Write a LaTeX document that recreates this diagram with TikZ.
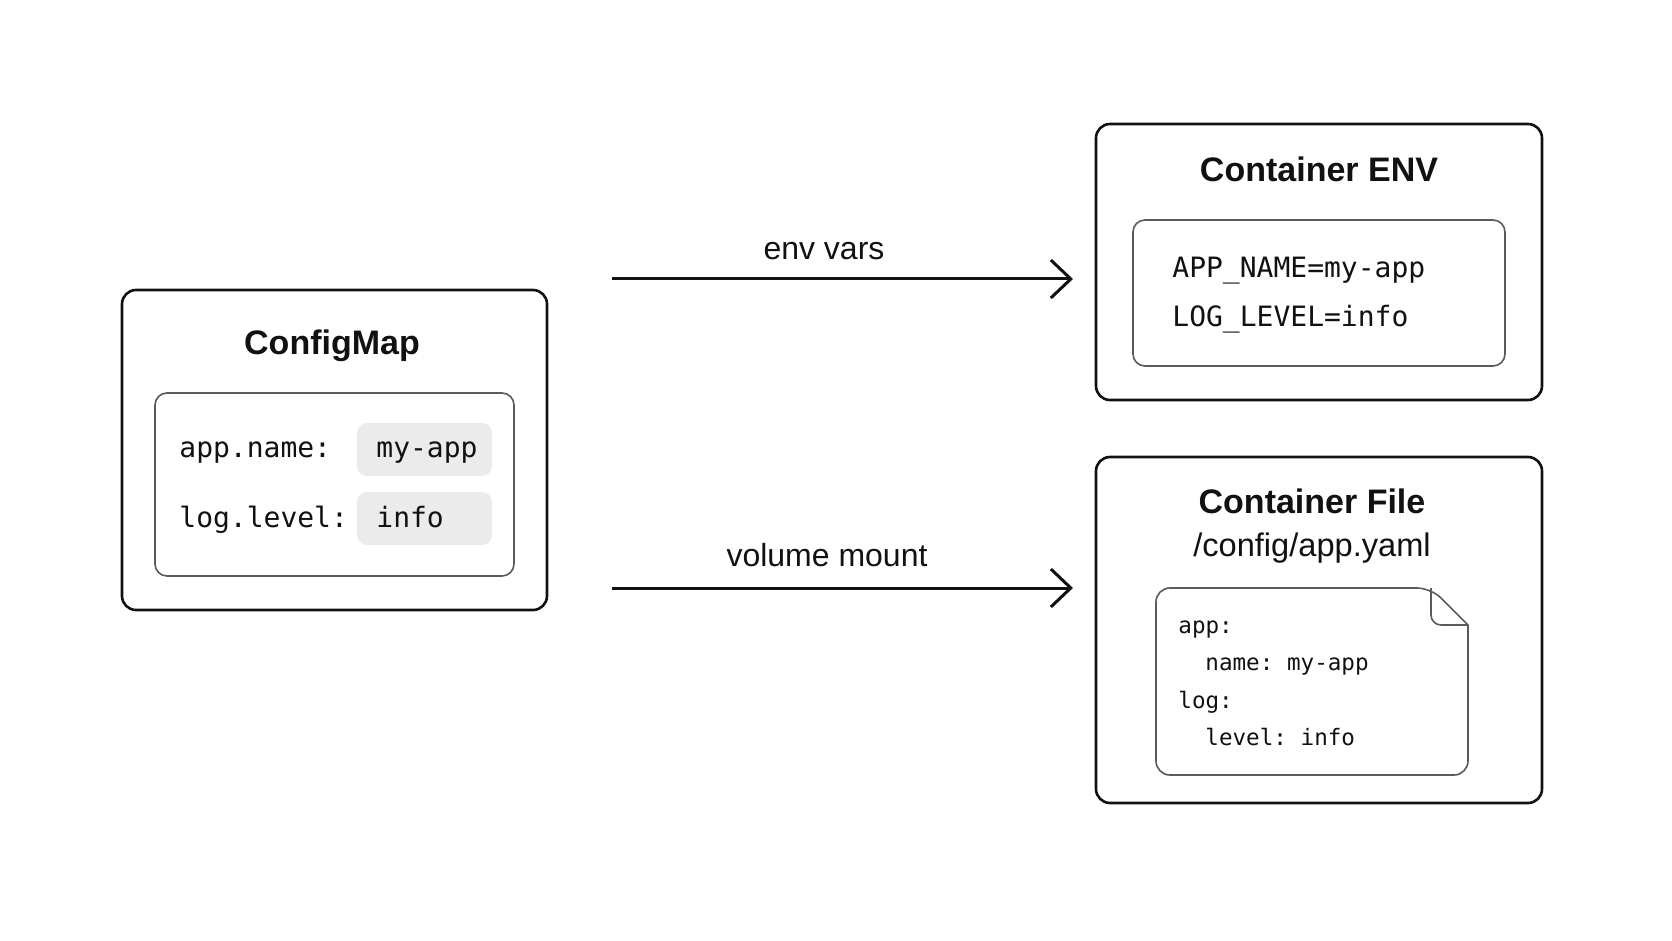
\documentclass[tikz,border=0pt]{standalone}
\usepackage{fontspec}
\setmainfont{Liberation Sans}
\setmonofont{DejaVu Sans Mono}
\usetikzlibrary{arrows.meta}
\definecolor{ink}{HTML}{111111}
\definecolor{edgegray}{HTML}{5A5A5A}
\definecolor{chip}{HTML}{EBEBEB}
\tikzset{
  outerbox/.style={draw=ink, line width=1.3pt, rounded corners=7pt, fill=white},
  innerbox/.style={draw=edgegray, line width=0.8pt, rounded corners=6pt},
  chipbox/.style={fill=chip, rounded corners=5pt, minimum width=67.5pt, minimum height=26.5pt, inner sep=0pt},
  titletext/.style={font=\fontsize{17}{20}\selectfont\bfseries, text=ink, anchor=base, inner sep=0pt},
  labeltext/.style={font=\fontsize{16}{19}\selectfont, text=ink, anchor=base, inner sep=0pt},
  cmtext/.style={font=\fontsize{14}{17}\ttfamily, text=ink, anchor=base west, inner sep=0pt},
  envtext/.style={font=\fontsize{14}{17}\ttfamily, text=ink, anchor=base west, inner sep=0pt},
  yamltext/.style={font=\fontsize{11.3}{14}\ttfamily, text=ink, anchor=base west, inner sep=0pt},
  flow/.style={draw=ink, line width=1.5pt, -{Straight Barb[length=10pt, width=19pt]}},
}
\begin{document}
\begin{tikzpicture}[x=0.5pt, y=-0.5pt]
\useasboundingbox[fill=white] (0,0) rectangle (1672,941);

% ConfigMap
\node[outerbox, minimum width=212.5pt, minimum height=160pt] (cm) at (334.5,450) {};
\node[titletext] (cmtitle) at (332,355) {ConfigMap};
\node[innerbox, minimum width=179.5pt, minimum height=91.5pt] (cmin) at (334.5,484.5) {};
\node[chipbox] (chip1) at (424.5,449.5) {};
\node[chipbox] (chip2) at (424.5,518.5) {};
\node[cmtext] (k1) at (179,458) {app.name:};
\node[cmtext] (v1) at (376,458) {my-app};
\node[cmtext] (k2) at (179,527) {log.level:};
\node[cmtext] (v2) at (376,527) {info};

% Container ENV
\node[outerbox, minimum width=223pt, minimum height=138pt] (env) at (1319,262) {};
\node[titletext] (envtitle) at (1319,182) {Container ENV};
\node[innerbox, minimum width=186pt, minimum height=73pt] (envin) at (1319,293) {};
\node[envtext] (e1) at (1172,278) {APP\_NAME=my-app};
\node[envtext] (e2) at (1172,327) {LOG\_LEVEL=info};

% Container File
\node[outerbox, minimum width=223pt, minimum height=173pt] (file) at (1319,630) {};
\node[titletext] (filetitle) at (1312,513) {Container File};
\node[labeltext, font=\fontsize{16.3}{19}\selectfont] (filepath) at (1312,556) {/config/app.yaml};
\draw[draw=edgegray, line width=0.8pt, rounded corners=7pt]
  (1156,700) -- (1156,588) -- (1431,588) [sharp corners] -- (1468,625) [rounded corners=7pt] -- (1468,775) -- (1156,775) -- cycle;
\draw[draw=edgegray, line width=0.8pt, rounded corners=5pt] (1431,588) |- (1468,625);
\node[yamltext] (y1) at (1178,633) {app:};
\node[yamltext] (y2) at (1205,670) {name: my-app};
\node[yamltext] (y3) at (1178,708) {log:};
\node[yamltext] (y4) at (1205,745) {level: info};

% Arrows
\coordinate (envS) at (612,279);
\coordinate (envE) at (1073,279);
\coordinate (volS) at (612,588);
\coordinate (volE) at (1073,588);
\draw[flow] (envS) -- (envE);
\draw[flow] (volS) -- (volE);
\node[labeltext] (envlabel) at (824,260) {env vars};
\node[labeltext] (vollabel) at (827,566) {volume mount};
\end{tikzpicture}
\end{document}
